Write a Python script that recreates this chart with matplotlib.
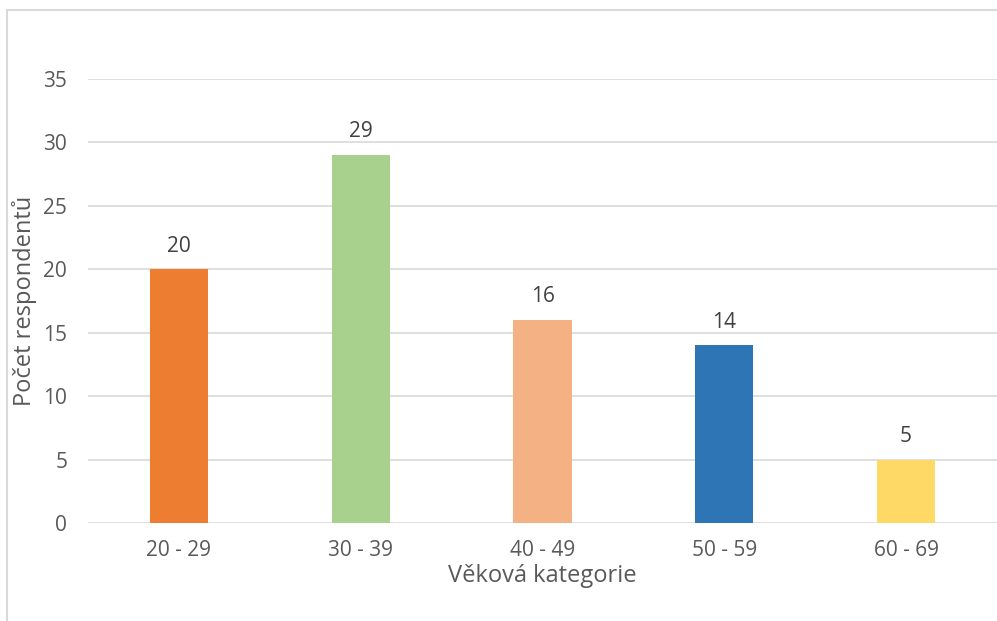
import matplotlib

matplotlib.use("Agg")

import matplotlib.pyplot as plt
from matplotlib.patches import Rectangle

categories = ["20 - 29", "30 - 39", "40 - 49", "50 - 59", "60 - 69"]
counts = [20, 29, 16, 14, 5]
colors = ["#ED7D31", "#A9D18E", "#F4B183", "#2E75B6", "#FFD966"]
y_ticks = [0, 5, 10, 15, 20, 25, 30, 35]

plt.rcParams["font.family"] = ["Open Sans", "DejaVu Sans"]

fig = plt.figure(figsize=(9.97, 6.21), dpi=100)
W, H = 997, 621

# chart border (cropped on the right and bottom)
fig.patches.append(
    Rectangle((7 / W, -0.1), 1.2, (H - 10) / H + 0.1, transform=fig.transFigure,
              fill=False, edgecolor="#d9d9d9", linewidth=1.5)
)

ax = fig.add_axes([88 / W, (H - 523) / H, (997 - 88) / W, (523 - 79) / H])
x = range(len(categories))
bars = ax.bar(x, counts, width=0.32, color=colors, zorder=3)

for rect, val in zip(bars, counts):
    ax.text(rect.get_x() + rect.get_width() / 2, val + 1.0, str(val),
            ha="center", va="bottom", fontsize=15, color="#404040")

ax.set_xlim(-0.5, len(categories) - 0.5)
ax.set_ylim(0, 35)
ax.set_yticks(y_ticks)
ax.set_xticks(list(x))
ax.set_xticklabels(categories)
ax.tick_params(axis="both", length=0, labelsize=15, labelcolor="#595959")
ax.tick_params(axis="x", pad=12)
ax.tick_params(axis="y", pad=15)
ax.grid(axis="y", color="#d9d9d9", linewidth=1.2, zorder=0)
for spine in ax.spines.values():
    spine.set_visible(False)

ax.set_xlabel("Věková kategorie", fontsize=17, color="#595959", va="top")
ax.xaxis.set_label_coords(0.5, -0.092)
ax.set_ylabel("Počet respondentů", fontsize=17, color="#595959")
ax.yaxis.set_label_coords(-0.056, 0.5)

fig.savefig("out.png", dpi=100)
plt.close(fig)
